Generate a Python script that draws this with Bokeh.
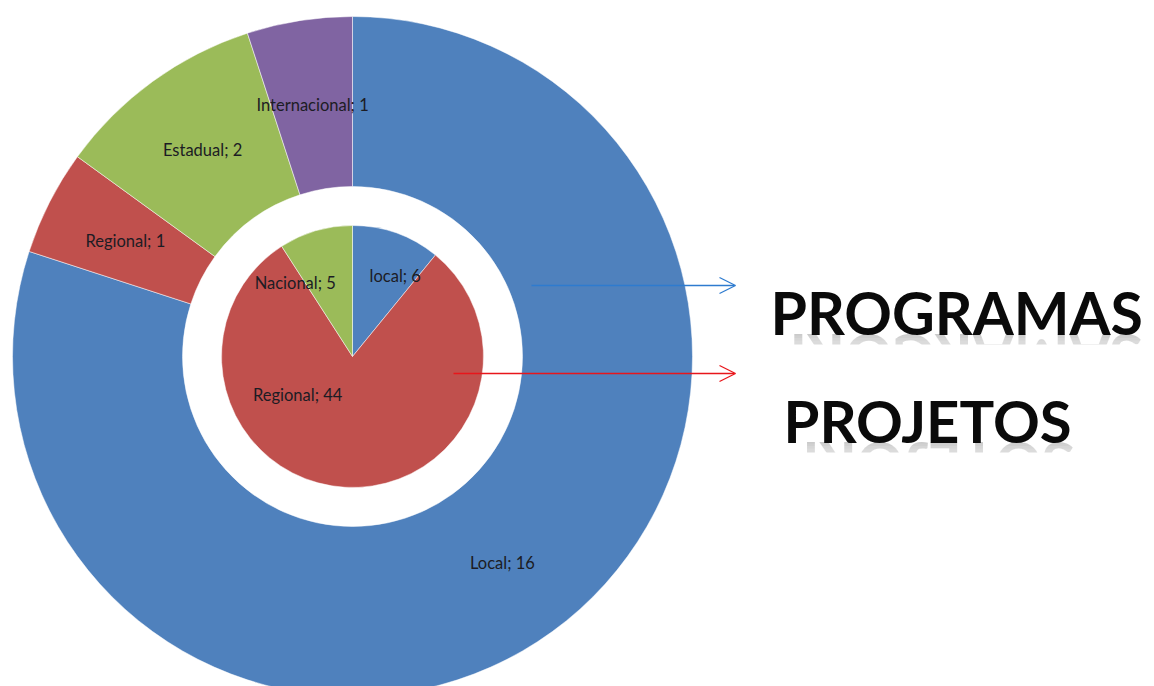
import math
from bokeh.plotting import figure
from bokeh.models import Range1d, Arrow, OpenHead, ColumnDataSource
from bokeh.core.properties import value
from bokeh.embed import file_html
from bokeh.resources import INLINE

# ---- data ----
programas_cats = ["Local", "Regional", "Estadual", "Internacional"]
programas_vals = [16, 1, 2, 1]
programas_colors = ["#4F81BD", "#C0504D", "#9BBB59", "#8064A2"]

projetos_cats = ["local", "Regional", "Nacional"]
projetos_vals = [6, 44, 5]
projetos_colors = ["#4F81BD", "#C0504D", "#9BBB59"]

title_programas = "PROGRAMAS"
title_projetos = "PROJETOS"

# ---- layout ----
W, H = 1154, 686
CX, CY = 352, H - 356
R_OUT, R_HOLE, R_PIE = 340, 170, 131
LABEL_FONT = "Lato"
TITLE_FONT = "Lato"
CAP = 42

p = figure(width=W, height=H, output_backend="svg", toolbar_location=None,
           x_range=Range1d(0, W), y_range=Range1d(0, H), min_border=0)
p.axis.visible = False
p.grid.visible = False
p.outline_line_color = None
p.background_fill_color = "white"


def wedges(vals):
    tot = float(sum(vals))
    starts, ends, mids = [], [], []
    c = 0.0
    for v in vals:
        a0 = math.pi / 2 - 2 * math.pi * (c + v) / tot
        a1 = math.pi / 2 - 2 * math.pi * c / tot
        starts.append(a0)
        ends.append(a1)
        mids.append((a0 + a1) / 2)
        c += v
    return starts, ends, mids


# outer ring (programas)
s, e, m = wedges(programas_vals)
src_o = ColumnDataSource(dict(start=s, end=e, color=programas_colors))
p.annular_wedge(x=CX, y=CY, inner_radius=R_HOLE, outer_radius=R_OUT,
                start_angle="start", end_angle="end", fill_color="color",
                line_color="white", line_width=1, line_alpha=0.5, source=src_o)
lab_r = 255
lx = [CX + lab_r * math.cos(a) for a in m]
ly = [CY + lab_r * math.sin(a) for a in m]
txt = [f"{c}; {v}" for c, v in zip(programas_cats, programas_vals)]
p.text(x=lx, y=ly, text=txt, text_align="center", text_baseline="middle",
       text_font=value(LABEL_FONT), text_font_size="16.5px", text_color="#1c1c24")

# inner pie (projetos)
s2, e2, m2 = wedges(projetos_vals)
src_i = ColumnDataSource(dict(start=s2, end=e2, color=projetos_colors))
p.wedge(x=CX, y=CY, radius=R_PIE, start_angle="start", end_angle="end",
        fill_color="color", line_color="white", line_width=1, line_alpha=0.5,
        source=src_i)
# label placement (polar offsets, Excel best-fit style)
inner_label_pos = [(math.radians(90 - 28), 91), (math.radians(90 - 235), 67),
                   (math.radians(90 - 322), 93)]
lx2 = [CX + r * math.cos(a) for a, r in inner_label_pos]
ly2 = [CY + r * math.sin(a) for a, r in inner_label_pos]
txt2 = [f"{c}; {v}" for c, v in zip(projetos_cats, projetos_vals)]
p.text(x=lx2, y=ly2, text=txt2, text_align="center", text_baseline="middle",
       text_font=value(LABEL_FONT), text_font_size="16.5px", text_color="#1c1c24")

# arrows
p.add_layout(Arrow(x_start=CX + 179, y_start=CY + 71, x_end=CX + 383, y_end=CY + 71,
                   line_color="#2E7BCF", line_width=1.3,
                   end=OpenHead(size=16, line_color="#2E7BCF", line_width=1.3)))
p.add_layout(Arrow(x_start=CX + 101, y_start=CY - 17, x_end=CX + 383, y_end=CY - 17,
                   line_color="#E8161B", line_width=1.3,
                   end=OpenHead(size=16, line_color="#E8161B", line_width=1.3)))

# big titles with a faded reflection
titles = [(title_programas, 770, H - 312, 59), (title_projetos, 783, H - 420, 58)]
for word, tx, ty, fs in titles:
    # reflection: reversed string rotated 180deg keeps letter order left->right
    p.text(x=[tx], y=[ty - CAP - 2], text=[word[::-1]], angle=math.pi,
           text_align="right", text_baseline="alphabetic",
           text_font=value(TITLE_FONT), text_font_style="bold",
           text_font_size=f"{fs}px", text_color="#4a4a4a", text_alpha=0.85)
    # fade-out: overlapping white layers, opacity accumulates downward
    for i in range(11):
        p.quad(left=tx - 5, right=tx + 390, top=ty - 3 - i * 2.5, bottom=ty - 70,
               fill_color="white", fill_alpha=0.13, line_color=None)
    p.quad(left=tx - 5, right=tx + 390, top=ty - 32, bottom=ty - 70,
           fill_color="white", fill_alpha=1.0, line_color=None)
    p.text(x=[tx], y=[ty], text=[word], text_align="left",
           text_baseline="alphabetic", text_font=value(TITLE_FONT),
           text_font_style="bold", text_font_size=f"{fs}px",
           text_color="#0a0a0a")

open("out.html", "w").write(file_html(p, INLINE))
